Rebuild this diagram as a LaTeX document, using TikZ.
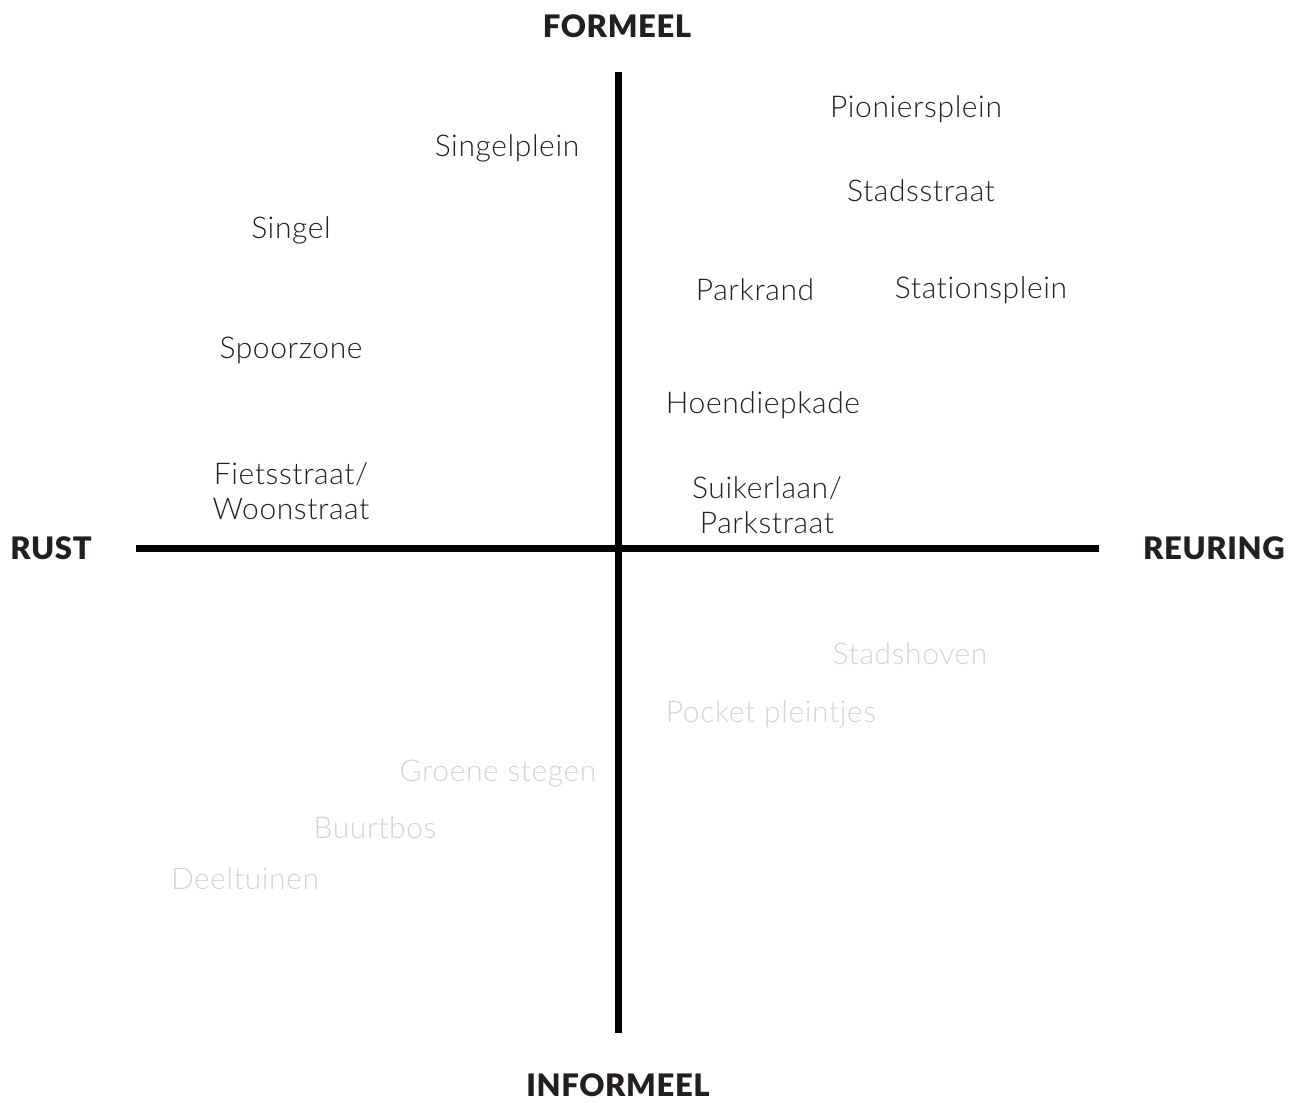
\documentclass[tikz,border=0pt]{standalone}
\usepackage{fontspec}
\setmainfont{Lato}[UprightFont={* Light},BoldFont={* Black},LetterSpace=2,Ligatures={NoCommon}]
\definecolor{ink}{HTML}{231F20}
\definecolor{faint}{HTML}{D4D4D4}
\begin{document}
\begin{tikzpicture}[x=1pt,y=-1pt,
  lbl/.style={font=\fontsize{30}{35}\selectfont,text=ink,align=center,inner sep=0pt,yshift=-2pt},
  dim/.style={lbl,text=faint},
  head/.style={font=\fontsize{31}{36}\selectfont\bfseries,text=ink,inner sep=0pt},
  axis/.style={line width=7pt,black}]
\useasboundingbox (0,0) rectangle (1305,1102);
\coordinate (top) at (618,72);
\coordinate (bot) at (618,1033);
\coordinate (lft) at (136,548);
\coordinate (rgt) at (1099,548);
\draw[axis] (top) -- (bot);
\draw[axis] (lft) -- (rgt);
\node[head] (formeel) at (617,26) {FORMEEL};
\node[head] (informeel) at (618,1085) {INFORMEEL};
\node[head] (rust) at (51,548) {RUST};
\node[head] (reuring) at (1214,548) {REURING};
\node[lbl] (singelplein) at (507,146) {Singelplein};
\node[lbl] (singel) at (291,228) {Singel};
\node[lbl] (spoorzone) at (291,348) {Spoorzone};
\node[lbl] (fiets) at (291,489) {Fietsstraat/\\Woonstraat};
\node[lbl] (pionier) at (916,107) {Pioniersplein};
\node[lbl] (stadsstraat) at (921,189) {Stadsstraat};
\node[lbl] (parkrand) at (755,288) {Parkrand};
\node[lbl] (station) at (981,288) {Stationsplein};
\node[lbl] (hoendiep) at (763,403) {Hoendiepkade};
\node[lbl] (suiker) at (767,503) {Suikerlaan/\\Parkstraat};
\node[dim] (stadshoven) at (910,652) {Stadshoven};
\node[dim] (pocket) at (771,712) {Pocket pleintjes};
\node[dim] (groene) at (498,772) {Groene stegen};
\node[dim] (buurtbos) at (375,826) {Buurtbos};
\node[dim] (deeltuinen) at (245,877) {Deeltuinen};
\end{tikzpicture}
\end{document}
